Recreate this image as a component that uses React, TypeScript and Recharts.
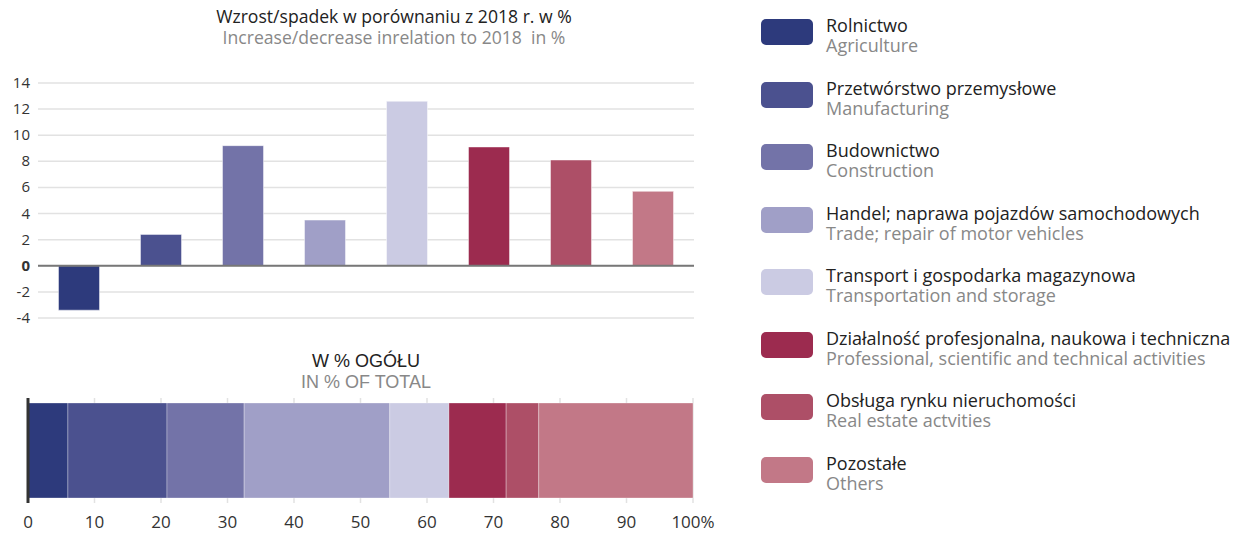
import React from 'react';
import { BarChart, Bar, XAxis, YAxis, CartesianGrid, ReferenceLine, Cell } from 'recharts';

const FONT = '"Open Sans", "Noto Sans", sans-serif';

const sectorsPl = [
  'Rolnictwo',
  'Przetwórstwo przemysłowe',
  'Budownictwo',
  'Handel; naprawa pojazdów samochodowych',
  'Transport i gospodarka magazynowa',
  'Działalność profesjonalna, naukowa i techniczna',
  'Obsługa rynku nieruchomości',
  'Pozostałe',
];
const sectorsEn = [
  'Agriculture',
  'Manufacturing',
  'Construction',
  'Trade; repair of motor vehicles',
  'Transportation and storage',
  'Professional, scientific and technical activities',
  'Real estate actvities',
  'Others',
];
// change vs 2018, %
const change2018 = [-3.4, 2.4, 9.2, 3.5, 12.6, 9.1, 8.1, 5.7];
// share of total, %
const shareOfTotal = [6.0, 14.9, 11.6, 21.9, 8.9, 8.6, 4.9, 23.2];
const colors = ['#2d3a7c', '#4b518f', '#7373a8', '#a09fc7', '#cbcbe3', '#9c2b4f', '#ad4f67', '#c27887'];

const yTicks = [-4, -2, 0, 2, 4, 6, 8, 10, 12, 14];
const xTicks = [0, 10, 20, 30, 40, 50, 60, 70, 80, 90, 100];

const changeData = sectorsPl.map((name, i) => ({ name, value: change2018[i] }));
const shareRow: Record<string, number | string> = { name: 'total' };
shareOfTotal.forEach((v, i) => {
  shareRow['s' + i] = v;
});

const YTick = (props: any) => {
  const { x, y, payload } = props;
  return (
    <text
      x={x}
      y={y}
      dy={5}
      textAnchor="end"
      fill="#333"
      fontSize={15}
      fontFamily={FONT}
      fontWeight={payload.value === 0 ? 700 : 400}
    >
      {payload.value}
    </text>
  );
};

const XTick = (props: any) => {
  const { x, y, payload } = props;
  return (
    <text x={x} y={y} dy={13} textAnchor="middle" fill="#333" fontSize={17} fontFamily={FONT}>
      {payload.value === 100 ? '100%' : payload.value}
    </text>
  );
};

export default function App() {
  return (
    <div style={{ position: 'absolute', left: 0, top: 0, width: 1239, height: 533, background: '#fff', fontFamily: FONT }}>
      <div style={{ position: 'absolute', left: 194, top: 6, width: 400, textAlign: 'center', fontSize: 17.6, lineHeight: '21px' }}>
        <div style={{ color: '#222' }}>Wzrost/spadek w porównaniu z 2018 r. w %</div>
        <div style={{ color: '#888', whiteSpace: 'pre' }}>Increase/decrease inrelation to 2018  in %</div>
      </div>

      <div style={{ position: 'absolute', left: 0, top: 0 }}>
        <BarChart width={720} height={330} data={changeData} margin={{ top: 83, right: 26, bottom: 12, left: 0 }} barCategoryGap="25%">
          <CartesianGrid vertical={false} stroke="#e2e2e2" strokeWidth={1.5} />
          <XAxis dataKey="name" hide />
          <YAxis
            width={38}
            domain={[-4, 14]}
            ticks={yTicks}
            interval={0}
            axisLine={false}
            tickLine={false}
            tickSize={0}
            tickMargin={8}
            tick={<YTick />}
          />
          <Bar dataKey="value" isAnimationActive={false} stroke="#ffffff" strokeOpacity={0.45} strokeWidth={1}>
            {changeData.map((d, i) => (
              <Cell key={d.name} fill={colors[i]} />
            ))}
          </Bar>
          <ReferenceLine y={0} stroke="#777" strokeWidth={2} />
        </BarChart>
      </div>

      <div style={{ position: 'absolute', left: 266, top: 351, width: 200, textAlign: 'center', fontFamily: '"Liberation Sans", Arial, sans-serif', fontSize: 18, lineHeight: '21px' }}>
        <div style={{ color: '#222' }}>W % OGÓŁU</div>
        <div style={{ color: '#888' }}>IN % OF TOTAL</div>
      </div>

      <div style={{ position: 'absolute', left: 0, top: 390 }}>
        <BarChart width={720} height={143} data={[shareRow]} layout="vertical" margin={{ top: 8, right: 27, bottom: 0, left: 28 }}>
          <CartesianGrid horizontal={false} stroke="#e2e2e2" strokeWidth={1.5} />
          <XAxis
            type="number"
            domain={[0, 100]}
            ticks={xTicks}
            interval={0}
            axisLine={false}
            tickLine={false}
            tickSize={0}
            tickMargin={12}
            height={30}
            tick={<XTick />}
          />
          <YAxis type="category" dataKey="name" hide />
          {shareOfTotal.map((_, i) => (
            <Bar
              key={i}
              dataKey={'s' + i}
              stackId="total"
              fill={colors[i]}
              barSize={95}
              stroke="#ffffff"
              strokeOpacity={0.3}
              strokeWidth={1}
              isAnimationActive={false}
            />
          ))}
          <ReferenceLine x={0} stroke="#333" strokeWidth={3} />
        </BarChart>
      </div>

      <div style={{ position: 'absolute', left: 760, top: 0 }}>
        {sectorsPl.map((name, i) => (
          <div key={name} style={{ position: 'absolute', left: 0, top: 15 + i * 62.5, width: 479, height: 44 }}>
            <div style={{ position: 'absolute', left: 1, top: 4, width: 52, height: 26, borderRadius: 5, background: colors[i] }} />
            <div style={{ position: 'absolute', left: 66, top: 0, fontSize: 18, lineHeight: '20px', whiteSpace: 'nowrap' }}>
              <div style={{ color: '#222' }}>{name}</div>
              <div style={{ color: '#888' }}>{sectorsEn[i]}</div>
            </div>
          </div>
        ))}
      </div>
    </div>
  );
}
